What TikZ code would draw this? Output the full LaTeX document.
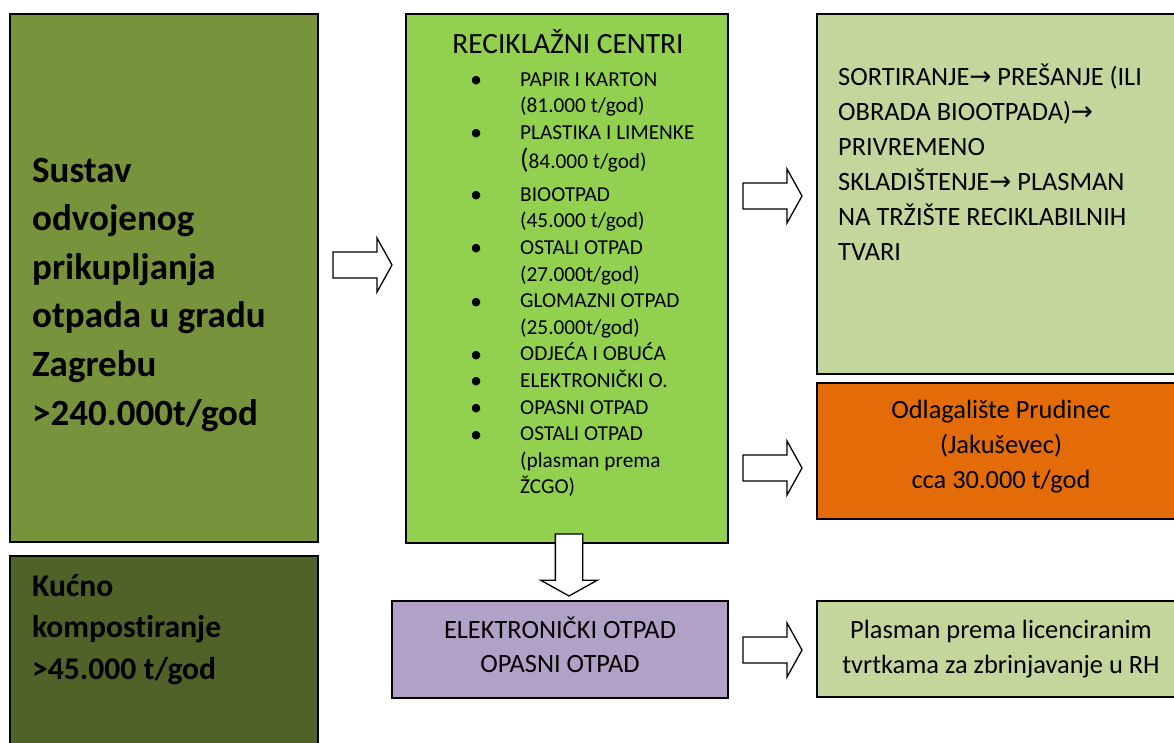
\documentclass[tikz,border=0pt]{standalone}
\usepackage{fontspec}
\setmainfont{Carlito}[Ligatures=NoCommon]
\newfontfamily\symfont{DejaVu Sans}
\usetikzlibrary{calc}
\definecolor{sustavgreen}{HTML}{77933C}
\definecolor{kompostgreen}{HTML}{4F6228}
\definecolor{centrigreen}{HTML}{92D050}
\definecolor{palegreen}{HTML}{C3D69B}
\definecolor{odlagorange}{HTML}{E36C09}
\definecolor{eopurple}{HTML}{B2A1C7}
\def \arr {{\symfont →}}
\def \bul {\makebox[10pt]{\raisebox{2.5pt}{\fontsize{11}{11}\selectfont\symfont ●}}}

\begin{document}
\begin{tikzpicture}[x=1pt, y=-1pt,
    box/.style={draw=black, line width=1.6pt, rectangle, anchor=north west,
        inner sep=0pt, outer sep=0pt},
    txt/.style={inner sep=0pt, anchor=base west},
    fatarrow/.pic={\draw[fill=white, line width=1.3pt, miter limit=10]
        (0,-13) -- (44,-13) -- (44,-27) -- (59,0) -- (44,27) -- (44,13) -- (0,13) -- cycle;}]
        \useasboundingbox (0,0) rectangle (1174,742);

        % Left column
        \node[box, fill=sustavgreen, minimum width=308pt, minimum height=528pt] (A) at (10,14) {};
        \node[txt, font=\fontsize{37}{48.6}\selectfont\bfseries] (Atext) at (32,182)
            {\begin{tabular}[t]{@{}l@{}}Sustav\\odvojenog\\prikupljanja\\otpada u gradu\\Zagrebu\\>240.000t/god\end{tabular}};

        \node[box, fill=kompostgreen, minimum width=308pt, minimum height=204pt] (B) at (10,556) {};
        \node[txt, font=\fontsize{31.6}{41.6}\selectfont\bfseries] (Btext) at (32,596)
            {\begin{tabular}[t]{@{}l@{}}Kućno\\kompostiranje\\>45.000 t/god\end{tabular}};

        % Middle column
        \node[box, fill=centrigreen, minimum width=322pt, minimum height=529pt] (C) at (406,14) {};
        \node[txt, anchor=base, font=\fontsize{29.4}{34}\selectfont] (Ctitle) at (568,53) {RECIKLAŽNI CENTRI};
        \node[txt, font=\fontsize{21.3}{26.6}\selectfont] (Clist) at (471,86)
            {\begin{tabular}[t]{@{}c@{\hspace{39pt}}l@{}}
            \bul & PAPIR I KARTON\\
                 & (81.000 t/god)\\
            \bul & PLASTIKA I LIMENKE\\[1pt]
                 & {\fontsize{28}{30}\selectfont(}84.000 t/god)\\[6pt]
            \bul & BIOOTPAD\\
                 & (45.000 t/god)\\
            \bul & OSTALI OTPAD\\
                 & (27.000t/god)\\
            \bul & GLOMAZNI OTPAD\\
                 & (25.000t/god)\\
            \bul & ODJEĆA I OBUĆA\\
            \bul & ELEKTRONIČKI O.\\
            \bul & OPASNI OTPAD\\
            \bul & OSTALI OTPAD\\
                 & (plasman prema\\
                 & ŽCGO)
            \end{tabular}};

        \node[box, fill=eopurple, minimum width=336pt, minimum height=97pt] (F) at (392,601) {};
        \node[txt, anchor=base, font=\fontsize{26.4}{34}\selectfont] (Ftext) at (560,638)
            {\begin{tabular}[t]{@{}c@{}}ELEKTRONIČKI OTPAD\\OPASNI OTPAD\end{tabular}};

        % Right column
        \node[box, fill=palegreen, minimum width=368pt, minimum height=360pt] (D) at (817,14) {};
        \node[txt, font=\fontsize{26.4}{35}\selectfont] (Dtext) at (838,85)
            {\begin{tabular}[t]{@{}l@{}}SORTIRANJE\arr{} PREŠANJE (ILI\\OBRADA BIOOTPADA)\arr\\PRIVREMENO\\SKLADIŠTENJE\arr{} PLASMAN\\NA TRŽIŠTE RECIKLABILNIH\\TVARI\end{tabular}};

        \node[box, fill=odlagorange, minimum width=368pt, minimum height=136pt] (E) at (817,383) {};
        \node[txt, anchor=base, font=\fontsize{26.4}{35}\selectfont] (Etext) at (1001,418)
            {\begin{tabular}[t]{@{}c@{}}Odlagalište Prudinec\\(Jakuševec)\\cca 30.000 t/god\end{tabular}};

        \node[box, fill=palegreen, minimum width=368pt, minimum height=96pt] (G) at (817,601) {};
        \node[txt, anchor=base, font=\fontsize{26.4}{35}\selectfont] (Gtext) at (1001,638)
            {\begin{tabular}[t]{@{}c@{}}Plasman prema licenciranim\\tvrtkama za zbrinjavanje u RH\end{tabular}};

        % Block arrows
        \pic at ($(A.east)+(15,-13)$) {fatarrow};
        \pic at ($(C.east)+(15,-82.5)$) {fatarrow};
        \pic at ($(C.east)+(15,189.5)$) {fatarrow};
        \pic at ($(F.east)+(15,0.5)$) {fatarrow};
        \pic[rotate=-90, scale=1.05] at ($(C.south)+(2,-9)$) {fatarrow};

    \end{tikzpicture}
\end{document}
